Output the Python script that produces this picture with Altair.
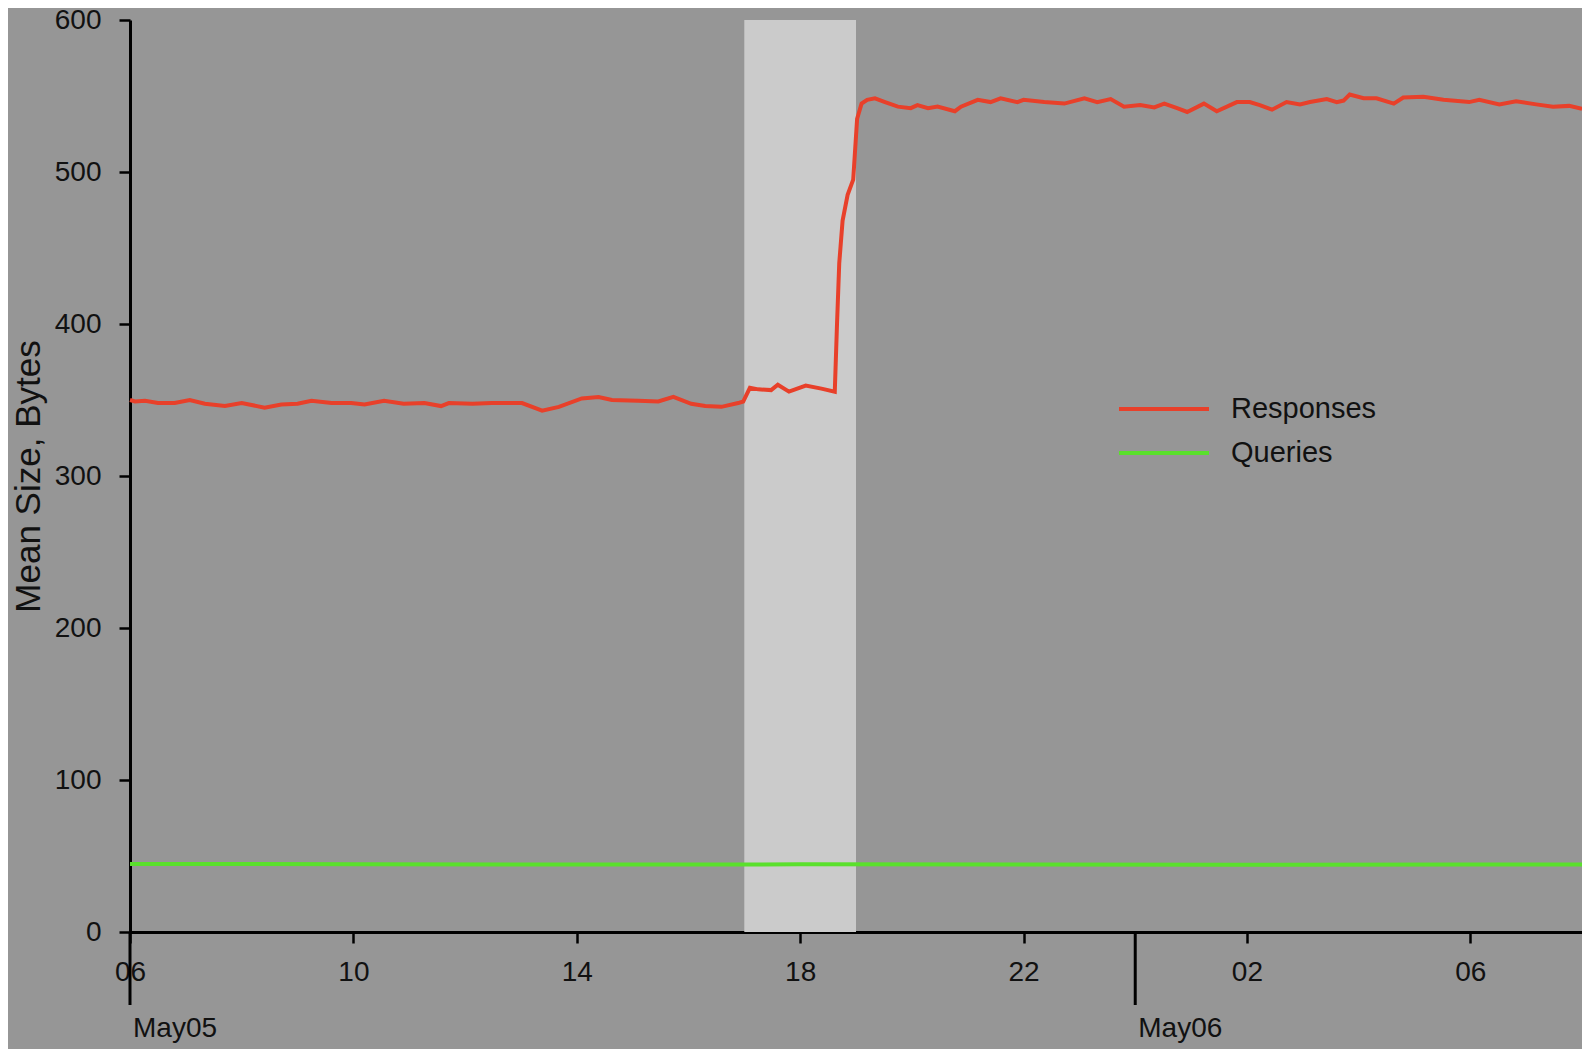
import altair as alt
import pandas as pd

# ---- data (hours since May05 00:00) ----
resp_hours = [6.0, 6.09, 6.27, 6.5, 6.8, 7.07, 7.34, 7.7, 8.0, 8.41, 8.71, 9.0, 9.25, 9.61, 9.96,
              10.2, 10.55, 10.9, 11.27, 11.57, 11.71, 12.13, 12.48, 13.02, 13.38, 13.68, 14.09,
              14.39, 14.63, 15.1, 15.46, 15.73, 16.05, 16.3, 16.59, 16.89, 16.98, 17.1, 17.25,
              17.48, 17.6, 17.8, 18.1, 18.38, 18.62, 18.66, 18.7, 18.76, 18.85, 18.95, 19.02,
              19.1, 19.2, 19.34, 19.52, 19.75, 19.98, 20.1, 20.29, 20.46, 20.77, 20.88, 21.18,
              21.41, 21.59, 21.89, 22.0, 22.37, 22.73, 23.09, 23.32, 23.56, 23.8, 24.09, 24.34,
              24.52, 24.75, 24.93, 25.23, 25.46, 25.82, 26.05, 26.23, 26.45, 26.71, 26.95, 27.13,
              27.43, 27.61, 27.73, 27.84, 28.09, 28.32, 28.63, 28.8, 29.16, 29.52, 29.98, 30.16,
              30.52, 30.82, 31.18, 31.48, 31.77, 32.0]
resp_values = [350, 349, 349.5, 348, 348, 350, 347.5, 346, 348, 345, 347, 347.5, 349.5, 348, 348,
               347, 349.5, 347.5, 348, 346, 348, 347.5, 348, 348, 343, 345.5, 351,
               352, 350, 349.5, 349, 352, 347.5, 346, 345.5, 348, 349, 358, 357,
               356.5, 360, 355.5, 359.5, 357.5, 355.5, 400, 440, 468, 485, 495, 535,
               545, 547.5, 548.5, 546, 543, 542, 544, 542, 543, 540, 543, 547.5,
               546, 548.5, 546, 547.5, 546, 545, 548.5, 546, 548, 543, 544, 542.5,
               545, 542, 539.5, 545, 540, 546, 546, 544, 541, 546, 544.5, 546,
               548, 546, 547, 551, 548.5, 548.5, 545, 549, 549.5, 547.5, 546, 547.5,
               544.5, 546.5, 544.5, 543, 543.5, 541.5]

query_hours = [6.0, 10.0, 14.0, 18.0, 22.0, 26.0, 30.0, 32.0]
query_values = [44.8, 44.6, 44.4, 44.5, 44.4, 44.3, 44.4, 44.4]

shade_start = [17.0]
shade_end = [19.0]

x_ticks = [6, 10, 14, 18, 22, 26, 30]
y_ticks = [0, 100, 200, 300, 400, 500, 600]
day_hours = [6, 24]
day_labels = ["May05", "May06"]

series_names = ["Responses", "Queries"]
series_colors = ["#e8402a", "#5ae02c"]

lines_df = pd.concat([
    pd.DataFrame({"hour": resp_hours, "value": resp_values, "series": "Responses"}),
    pd.DataFrame({"hour": query_hours, "value": query_values, "series": "Queries"}),
])
shade_df = pd.DataFrame({"start": shade_start, "end": shade_end, "lo": [0], "hi": [600]})
day_df = pd.DataFrame({"hour": day_hours, "label": day_labels})

W, H = 1452, 912
FONT = "Liberation Sans"

xscale = alt.Scale(domain=[6, 32], nice=False, zero=False)
yscale = alt.Scale(domain=[0, 600], nice=False)

shade = alt.Chart(shade_df).mark_rect(color="#cbcbcb").encode(
    x=alt.X("start:Q", scale=xscale,
            axis=alt.Axis(values=x_ticks, title=None, grid=False, labelFlush=False,
                          labelExpr="(datum.value % 24 < 10 ? '0' : '') + (datum.value % 24)",
                          tickSize=11, labelPadding=15, labelFontSize=28)),
    x2="end:Q",
    y=alt.Y("lo:Q", scale=yscale,
            axis=alt.Axis(values=y_ticks, title="Mean Size, Bytes", grid=False, labelFlush=False,
                          tickSize=11, labelPadding=18, labelFontSize=28,
                          titleFontSize=35, titleFontWeight="normal", titlePadding=8)),
    y2="hi:Q",
)

lines = alt.Chart(lines_df).mark_line(strokeWidth=4).encode(
    x=alt.X("hour:Q", scale=xscale),
    y=alt.Y("value:Q", scale=yscale),
    color=alt.Color("series:N",
                    scale=alt.Scale(domain=series_names, range=series_colors),
                    sort=series_names,
                    legend=alt.Legend(title=None, orient="none", legendX=1017, legendY=372,
                                      symbolType="M-3,0H3", symbolSize=900,
                                      symbolStrokeWidth=4, labelFontSize=29,
                                      labelOffset=50, rowPadding=12, padding=0,
                                      labelColor="#111111", labelFont=FONT)),
)

day_ticks = alt.Chart(day_df).mark_rule(color="black", strokeWidth=3).encode(
    x=alt.X("hour:Q", scale=xscale),
    y=alt.value(H),
    y2=alt.value(H + 73),
)

day_text = alt.Chart(day_df).mark_text(align="left", baseline="alphabetic", dx=3,
                                       fontSize=28, font=FONT, color="#111111").encode(
    x=alt.X("hour:Q", scale=xscale),
    y=alt.value(H + 105),
    text="label:N",
)

chart = alt.layer(shade, lines, day_ticks, day_text).properties(
    width=W, height=H,
    autosize=alt.AutoSizeParams(type="none"),
    padding={"left": 122, "top": 12, "right": 0, "bottom": 117},
    background="#969696",
).configure_view(stroke=None).configure_axis(
    domainColor="black", domainWidth=3, tickColor="black", tickWidth=2.5,
    labelColor="#111111", titleColor="#111111", labelFont=FONT, titleFont=FONT,
)

chart.save("out.html", embed_options={"renderer": "svg", "actions": False})
